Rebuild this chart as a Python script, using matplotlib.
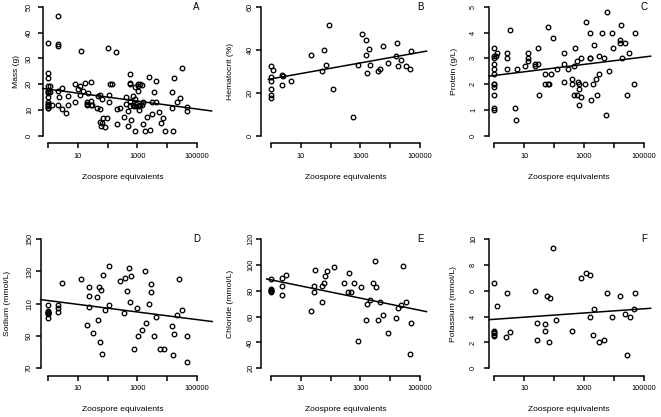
import matplotlib
matplotlib.use("Agg")
import matplotlib.pyplot as plt
from matplotlib.transforms import blended_transform_factory
import numpy as np

plt.rcParams['font.family'] = ['Liberation Sans', 'DejaVu Sans']

# ---------------- data ----------------
x_ticks = [1, 10, 100, 1000, 10000, 100000]
x_ticklabels = ["", "10", "", "1000", "", "100000"]
xlabel = "Zoospore equivalents"

# A: Mass
mass_x = [1, 1, 1, 1, 1, 1, 1, 1, 1, 1, 1, 1, 1, 1,
          1.14, 1.14, 1.3, 2.2, 2.2, 2.2, 2.2, 2.2, 2.3, 3.0, 3.0, 4.1, 4.7, 4.7,
          7.9, 7.9, 9.7, 11.7, 11.7, 12.6, 15, 17, 19.6, 19.6, 19.6, 22,
          26.8, 26.8, 26.8, 29, 42.7, 48.5, 55, 55, 55, 60, 63, 63, 71, 81, 97,
          106, 110, 110, 120, 144, 186, 200, 200, 260, 365, 415, 415, 470, 500,
          565, 565, 565, 565, 565, 610, 690, 690, 770, 830, 830, 830, 900, 900,
          1030, 1030, 1030, 1140, 1140, 1230, 1230, 1400, 1400, 1590, 1590,
          1810, 2050, 2460, 2680, 3030, 3030, 3640, 4260, 4260, 5500, 6300,
          7550, 8800, 14400, 14400, 16300, 17700, 21000, 27400, 31000, 46000, 46000]
mass_y = [35.8, 24.2, 22.3, 19.5, 17.5, 17.0, 16.5, 15.0, 13.0, 12.5, 12.0, 11.5, 11.0, 10.8,
          19.5, 17.0, 12.0, 46.3, 35.5, 34.8, 17.5, 12.0, 15.0, 18.5, 10.5, 9.0, 15.5, 12.0,
          20.0, 13.0, 18.0, 19.5, 16.0, 32.8, 17.5, 20.5, 12.5, 12.0, 13.0, 16.5,
          20.7, 13.5, 12.0, 12.0, 10.7, 15.5, 10.3, 16.0, 5.5, 3.7, 14.5, 5.0, 7.0, 3.3, 7.0,
          34.0, 16.0, 13.0, 20.0, 20.0, 32.5, 10.5, 4.8, 11.0, 7.4, 12.5, 15.0, 3.8, 9.5,
          24.0, 20.4, 20.0, 13.5, 11.5, 6.0, 12.0, 15.5, 11.5, 14.5, 19.0, 1.8, 11.5, 12.5,
          20.0, 17.5, 19.5, 10.0, 11.5, 20.0, 12.0, 19.7, 12.0, 4.8, 13.0,
          2.0, 7.3, 23.0, 2.4, 8.5, 13.0, 17.1, 21.4, 13.3, 9.1, 5.0,
          7.1, 2.0, 10.8, 17.0, 2.1, 22.6, 13.3, 14.8, 26.3, 11.4, 9.7]

# B: Hematocrit
hct_x = [1, 1, 1, 1, 1, 1, 1.14, 2.34, 2.45, 2.34, 4.6, 22.4, 51, 58.5, 72, 88, 121,
         580, 810, 1130, 1540, 1540, 1660, 1950, 2060, 4000, 4650, 5700, 8450,
         15600, 16500, 18700, 23000, 33000, 47500, 48600]
hct_y = [32.4, 27.5, 25.7, 21.8, 19.1, 17.6, 30.5, 28.3, 28.0, 23.5, 25.4, 37.6, 30.0, 40.0, 33.0, 51.7, 22.0,
         9.0, 33.0, 47.2, 37.8, 44.7, 29.4, 40.5, 32.8, 30.0, 31.3, 41.8, 34.0,
         37.2, 43.3, 32.7, 35.3, 32.7, 31.3, 39.6]

# C: Protein
prot_x = [1, 1, 1, 1, 1, 1, 1, 1, 1, 1, 1, 1, 1.1, 1.2, 2.6, 2.6, 2.6, 3.4, 4.8, 5.4, 5.6,
          10.8, 13, 13, 13.7, 23, 23, 28, 28, 31.8, 49, 49, 60.5, 60.5, 69, 76, 89, 127,
          207, 212, 212, 282, 405, 405, 470, 470, 510, 565, 565, 605, 675, 675, 675,
          785, 785, 1090, 1150, 1610, 1610, 1610, 1690, 1930, 2080, 2550, 2760, 3140, 3140,
          3960, 4700, 5500, 5800, 6600, 8300, 9500, 16200, 16200, 17000, 18500, 23200,
          27700, 32300, 47500, 50000]
prot_y = [3.4, 3.0, 2.8, 2.6, 2.4, 2.0, 2.0, 1.9, 1.6, 1.1, 1.0, 3.1, 3.1, 3.2, 3.2, 3.0, 2.6, 4.1, 1.1, 0.6, 2.6,
          2.7, 3.2, 3.0, 2.9, 2.8, 2.7, 3.4, 2.8, 1.6, 2.4, 2.0, 4.2, 2.0, 2.0, 2.4, 3.8, 2.6,
          3.2, 2.1, 2.8, 2.6, 2.2, 2.0, 1.6, 2.7, 3.4, 2.9, 1.6, 2.1, 1.8, 1.2, 2.0,
          3.0, 1.5, 2.0, 4.4, 4.0, 3.0, 3.0, 1.4, 2.0, 3.5, 2.2, 1.6, 2.4, 3.1,
          4.0, 3.0, 0.8, 4.8, 2.5, 4.0, 3.4, 3.6, 3.7, 4.3, 3.0, 3.6,
          1.6, 3.2, 2.0, 4.0]

# D: Sodium
na_x = [1, 1, 1, 1, 1, 1, 1, 1, 2.2, 2.2, 2.2, 3.0, 12.3, 20.6, 24, 24, 24, 31, 45, 47, 52,
        55, 58, 66, 68, 81, 108, 114, 262, 348, 385, 450, 540, 550, 600, 760, 1000, 1050,
        1470, 1810, 1910, 2400, 2960, 2960, 3650, 4270, 5650, 7900, 14700, 15500, 17700,
        21200, 26100, 31000, 46000, 48500]
na_y = [109, 105.5, 105, 104.5, 104, 104, 103.5, 101, 109, 107, 105, 123, 125, 97, 120, 108, 114.5, 92, 114, 100, 120,
        86, 118.5, 79, 128, 106, 109, 133, 124, 104, 126, 118, 132, 111, 127, 82, 107, 90,
        94, 130, 98, 110, 122, 117.5, 90, 102, 82, 82, 96, 78, 91,
        103, 125, 106, 74, 90]

# E: Chloride
cl_x = [1, 1, 1, 1, 1, 1, 2.28, 2.28, 2.4, 3.3, 22.4, 27, 27, 29.4, 50, 50, 58.5, 65, 74, 127,
        280, 375, 425, 500, 610, 810, 1080, 1540, 1660, 2060, 2650, 3080, 3250, 4000, 4650,
        5700, 8450, 15600, 18700, 23000, 27600, 33000, 47500, 50000]
cl_y = [89, 81, 80.5, 80, 79.5, 79, 90, 77, 84, 92, 64, 84, 79, 96, 71, 83.5, 86, 91, 95, 98,
        86, 79, 94, 79, 86, 41, 83, 57, 70, 73, 86, 103, 83, 57, 71,
        61, 47, 59, 67, 69, 99, 71, 31, 55]

# F: Potassium
k_x = [1, 1, 1, 1, 1, 1, 1.2, 2.45, 2.65, 3.4, 22.8, 27.5, 27.5, 51, 51, 59, 67, 74, 91, 118,
       385, 810, 1130, 1610, 1610, 1930, 2080, 3220, 4700, 5800, 8450, 16200, 23200, 27700,
       33000, 47500, 48600]
k_y = [6.6, 2.9, 2.8, 2.7, 2.6, 2.5, 4.8, 2.4, 5.8, 2.8, 6.0, 3.5, 2.2, 2.9, 3.4, 5.6, 2.05, 5.4, 9.3, 3.7,
       2.9, 7.0, 7.4, 7.2, 4.0, 2.6, 4.6, 2.0, 2.2, 5.8, 4.0, 5.6, 4.2, 1.0,
       4.0, 4.6, 5.8]

letters = ["A", "B", "C", "D", "E", "F"]
ylabels = ["Mass (g)", "Hematocrit (%)", "Protein (g/L)",
           "Sodium (mmol/L)", "Chloride (mmol/L)", "Potassium (mmol/L)"]
yticks = [[0, 10, 20, 30, 40, 50], [0, 20, 40, 60], [0, 1, 2, 3, 4, 5],
          [70, 90, 110, 130, 150], [20, 40, 60, 80, 100, 120], [0, 2, 4, 6, 8, 10]]
# regression lines: value = intercept + slope * log10(x)
fit_intercept = [18.1, 26.5, 2.34, 111.9, 88.4, 3.79]
fit_slope = [-1.53, 2.47, 0.143, -2.35, -4.71, 0.163]
fit_logx_range = [(-0.19, 5.5), (-0.09, 5.22), (-0.17, 5.22),
                  (-0.26, 5.52), (-0.145, 5.22), (-0.17, 5.22)]

xs = [mass_x, hct_x, prot_x, na_x, cl_x, k_x]
ys = [mass_y, hct_y, prot_y, na_y, cl_y, k_y]

# ---------------- layout (pixels) ----------------
W, H, DPI = 661, 417, 100
fig = plt.figure(figsize=(W / DPI, H / DPI), dpi=DPI)

# column geometry: axis-line x, tick(1) x, tick(1e5) x, right edge, ytick label x, ylabel x
cols = [dict(left=(42.7, 40.7), t1=48.3, t5=196.7, right=212.5, ytl=(29.5, 29.5), yl=(16, 7.5)),
        dict(left=(260.7, 260.7), t1=271.0, t5=420.0, right=427.5, ytl=(250.5, 250.7), yl=(231, 230.5)),
        dict(left=(489.3, 489.3), t1=494.3, t5=644.0, right=651.0, ytl=(473.5, 473.5), yl=(455, 453.5))]
# row geometry: x-axis line y, lowest y tick, highest y tick, top edge, xtick label y, xlabel y
rows = [dict(bottom=143.3, ylo=136.0, yhi=6.7, xtl=156.7, xl=177.7),
        dict(bottom=375.7, ylo=368.3, yhi=239.0, xtl=389.0, xl=409.5)]

TICK_FS = 5.3
LAB_FS = 6.1
LET_FS = 7.0
px2pt = 72.0 / DPI

for i in range(6):
    r, c = divmod(i, 3)
    cg, rg = cols[c], rows[r]
    left = cg['left'][r]
    dec = (cg['t5'] - cg['t1']) / 5.0
    xlo = -(cg['t1'] - left) / dec
    xhi = 5 + (cg['right'] - cg['t5']) / dec
    yt = yticks[i]
    upp = (yt[-1] - yt[0]) / (rg['ylo'] - rg['yhi'])
    top = rg['yhi'] - (rg['bottom'] - rg['ylo'])
    ylo = yt[0] - (rg['bottom'] - rg['ylo']) * upp
    yhi = yt[-1] + (rg['yhi'] - top) * upp

    ax = fig.add_axes([left / W, 1 - rg['bottom'] / H, (cg['right'] - left) / W, (rg['bottom'] - top) / H])
    ax.set_xscale('log')
    ax.set_xlim(10 ** xlo, 10 ** xhi)
    ax.set_ylim(ylo, yhi)
    ax.patch.set_visible(False)
    for s in ['top', 'right']:
        ax.spines[s].set_visible(False)
    ax.spines['left'].set_bounds(yt[0], yt[-1])
    ax.spines['bottom'].set_bounds(x_ticks[0], x_ticks[-1])
    for s in ['left', 'bottom']:
        ax.spines[s].set_linewidth(1.1)
    ax.set_xticks(x_ticks)
    ax.xaxis.set_minor_locator(matplotlib.ticker.NullLocator())
    ax.set_yticks(yt)
    ax.tick_params(direction='out', length=5 * px2pt, width=1.1, labelbottom=False, labelleft=False)

    # tick labels
    tx = blended_transform_factory(ax.transData, fig.transFigure)
    for xv, lab in zip(x_ticks, x_ticklabels):
        if lab:
            ax.text(xv, 1 - rg['xtl'] / H, lab, transform=tx, ha='center', va='center', fontsize=TICK_FS)
    ty = blended_transform_factory(fig.transFigure, ax.transData)
    for yv in yt:
        ax.text(cg['ytl'][r] / W, yv, f"{yv:g}", transform=ty, ha='center', va='center',
                rotation=90, fontsize=TICK_FS)
    # axis labels
    ax.text(10 ** 2.5, 1 - rg['xl'] / H, xlabel, transform=tx, ha='center', va='center', fontsize=LAB_FS)
    ax.text(cg['yl'][r] / W, (yt[0] + yt[-1]) / 2, ylabels[i], transform=ty, ha='center', va='center',
            rotation=90, fontsize=LAB_FS)
    # panel letter
    ax.text(1e5, yt[-1], letters[i], ha='center', va='center', fontsize=LET_FS)

    # points
    ax.plot(xs[i], ys[i], linestyle='none', marker='o', mfc='none', mec='black',
            ms=3.3, mew=0.95, clip_on=False)
    # regression line
    lx = np.array(fit_logx_range[i])
    ax.plot(10 ** lx, fit_intercept[i] + fit_slope[i] * lx, color='black', lw=1.1, clip_on=False)

fig.savefig("out.png", dpi=DPI)
